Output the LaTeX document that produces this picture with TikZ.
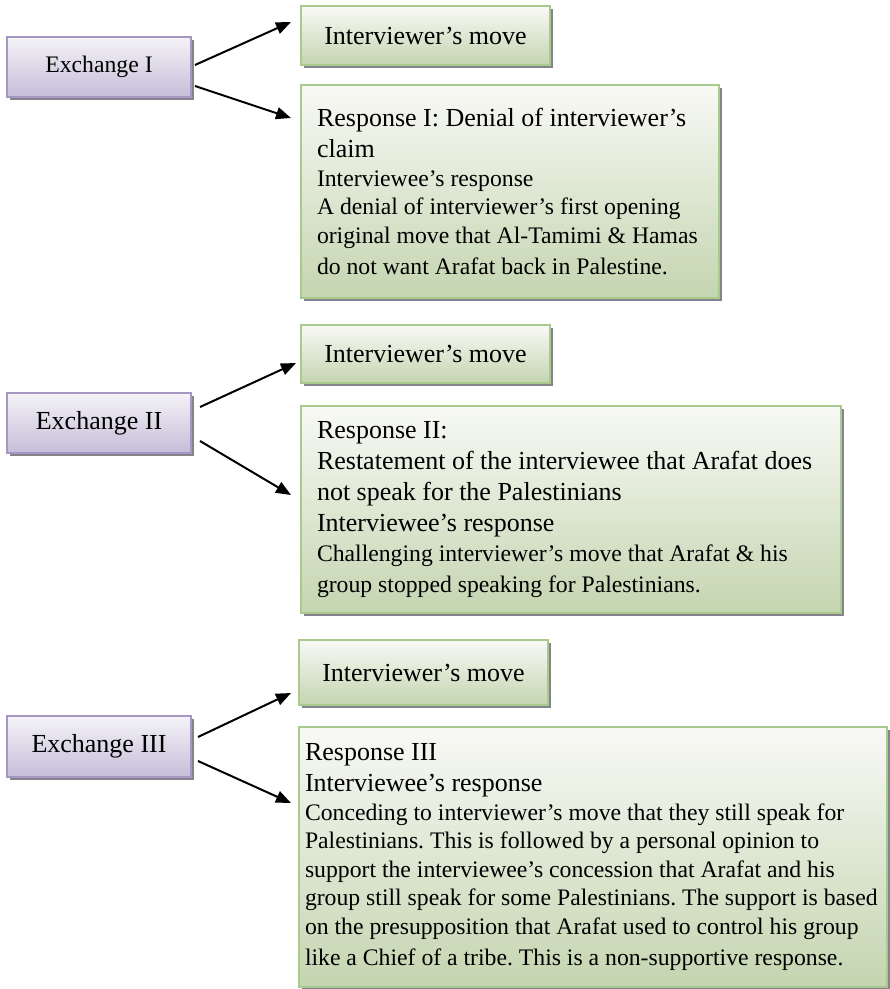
\documentclass[tikz,border=0pt]{standalone}
\usepackage{fontspec}
\setmainfont{Liberation Serif}
\usetikzlibrary{shadows,arrows.meta}
\pgfdeclarelayer{edgelayer}
\pgfdeclarelayer{nodelayer}
\pgfsetlayers{edgelayer,nodelayer,main}
\frenchspacing
\definecolor{exchborder}{HTML}{A596C4}
\definecolor{exchtop}{HTML}{F4F3F7}
\definecolor{exchbot}{HTML}{C6BDD9}
\definecolor{moveborder}{HTML}{A9C98E}
\definecolor{movetop}{HTML}{F8F9F5}
\definecolor{movebot}{HTML}{C4D5B0}
\definecolor{shadowgray}{HTML}{85838C}
\newcommand{\bigsize}{\fontsize{13}{15.6}\selectfont}
\newcommand{\smallsize}{\fontsize{11.85}{14.3}\selectfont}
\tikzset{font=\bigsize}
\tikzstyle{boxshadow}=[drop shadow={shadow xshift=1.5pt,shadow yshift=-1.5pt,fill=shadowgray,opacity=1}]
\tikzstyle{exchbox}=[rectangle,draw=exchborder,line width=1pt,top color=exchtop,bottom color=exchbot,minimum width=92pt,minimum height=30pt,inner sep=0pt,boxshadow]
\tikzstyle{movebox}=[rectangle,draw=moveborder,line width=1pt,top color=movetop,bottom color=movebot,minimum width=124.5pt,minimum height=29.5pt,inner sep=0pt,boxshadow]
\tikzstyle{respbox}=[rectangle,draw=moveborder,line width=1pt,top color=movetop,bottom color=movebot,align=flush left,inner ysep=0pt,boxshadow,execute at begin node={\spaceskip=0pt\xspaceskip=0pt}]
\tikzstyle{link}=[line width=1pt,-{Triangle[length=7.5pt,width=6pt]}]

\begin{document}
\begin{tikzpicture}[x=0.5pt,y=-0.5pt]
	\useasboundingbox (0,0) rectangle (889,989);
	\begin{pgfonlayer}{nodelayer}
		\node [style=exchbox,font=\smallsize] (0) at (99, 67) {Exchange I};
		\node [style=movebox] (1) at (425.5, 35.5) {Interviewer’s move};
		\node [style=respbox,minimum width=209pt,minimum height=106.5pt,inner xsep=8pt,text width=193pt] (2) at (510, 191.5) {{\bigsize Response I: Denial of interviewer’s\\claim\par}\smallsize Interviewee’s response\\A denial of interviewer’s first opening\\original move that Al-Tamimi \& Hamas\\do not want Arafat back in Palestine.};
		\node [style=exchbox] (3) at (99, 423) {Exchange II};
		\node [style=movebox,minimum height=29pt] (4) at (425.5, 354) {Interviewer’s move};
		\node [style=respbox,minimum width=270pt,minimum height=103.5pt,inner xsep=8pt,text width=254pt] (5) at (571, 509.5) {{\bigsize Response II:\\Restatement of the interviewee that Arafat does\\not speak for the Palestinians\\Interviewee’s response\par}\fontsize{11.85}{15}\selectfont Challenging interviewer’s move that Arafat \& his\\group stopped speaking for Palestinians.};
		\node [style=exchbox,minimum height=30.5pt] (6) at (99, 746.5) {Exchange III};
		\node [style=movebox,minimum height=32.5pt] (7) at (423.5, 672.5) {Interviewer’s move};
		\node [style=respbox,minimum width=294pt,minimum height=130pt,inner xsep=3pt,text width=288pt] (8) at (593, 857) {{\bigsize Response III\\Interviewee’s response\par}\smallsize Conceding to interviewer’s move that they still speak for\\Palestinians. This is followed by a personal opinion to\\support the interviewee’s concession that Arafat and his\\group still speak for some Palestinians. The support is based\\on the presupposition that Arafat used to control his group\\like a Chief of a tribe. This is a non-supportive response.};
	\end{pgfonlayer}
	\begin{pgfonlayer}{edgelayer}
		\draw [style=link] ([xshift=1.5pt,yshift=1pt]0.east) to ([xshift=-4.5pt,yshift=6.75pt]1.west);
		\draw [style=link] ([xshift=1.5pt,yshift=-9.5pt]0.east) to ([xshift=-4.5pt,yshift=36.75pt]2.west);
		\draw [style=link] ([xshift=4pt,yshift=8pt]3.east) to ([xshift=-2pt,yshift=-4.5pt]4.west);
		\draw [style=link] ([xshift=4pt,yshift=-9pt]3.east) to ([xshift=-4.5pt,yshift=7.25pt]5.west);
		\draw [style=link] ([xshift=3pt,yshift=4.75pt]6.east) to ([xshift=-3.5pt,yshift=-10.25pt]7.west);
		\draw [style=link] ([xshift=3pt,yshift=-7.25pt]6.east) to ([xshift=-3.5pt,yshift=27pt]8.west);
	\end{pgfonlayer}
\end{tikzpicture}
\end{document}
